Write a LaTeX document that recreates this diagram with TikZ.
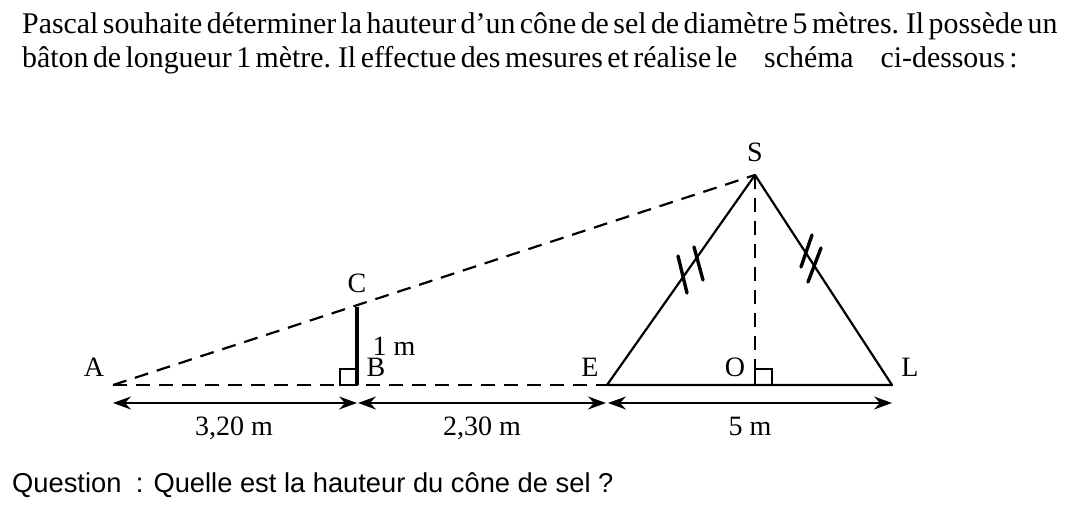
\documentclass[tikz,border=0pt]{standalone}
\usepackage{fontspec}
\setmainfont[WordSpace=0.6]{Liberation Serif}
\newfontfamily\labfont{Liberation Serif}
\newfontfamily\qfont{Liberation Sans}
\usetikzlibrary{arrows.meta}
\tikzset{
  x=1pt,y=-1pt,
  lab/.style={inner sep=0pt,font=\labfont\fontsize{28}{28}\selectfont,anchor=base},
  head/.style={inner sep=0pt,anchor=base west,font=\fontsize{30}{30}\selectfont},
  solidline/.style={line width=2.2pt,line cap=round,line join=round},
  dashline/.style={line width=2.2pt,dash pattern=on 14pt off 9pt},
  dim/.style={line width=1.3pt,{Stealth[length=18pt,width=13pt,inset=6pt]}-{Stealth[length=18pt,width=13pt,inset=6pt]}},
  tick/.style={line width=3.4pt,line cap=round},
  sqmark/.style={line width=1.7pt}
}
\begin{document}
\begin{tikzpicture}
\useasboundingbox (0,0) rectangle (1089,506);
\node[head] (t1) at (22,33) {\scalebox{0.995}[1]{Pascal souhaite déterminer la hauteur d’un cône de sel de diamètre 5 mètres. Il possède un}};
\node[head] (t2) at (22,67) {\scalebox{0.995}[1]{bâton de longueur 1 mètre. Il effectue des mesures et réalise le\hspace{0.75em} schéma\hspace{0.75em} ci-dessous :}};
\node[inner sep=0pt,anchor=base west,font=\qfont\fontsize{27.3}{27.3}\selectfont] (q) at (12,492) {Question\hspace{0.25em} : Quelle est la hauteur du cône de sel ?};
\coordinate (A) at (113,385);
\coordinate (B) at (357,385);
\coordinate (C) at (357,307);
\coordinate (E) at (607,385);
\coordinate (S) at (755,175);
\coordinate (O) at (755,385);
\coordinate (L) at (892,385);
\coordinate (dA) at (113,403);
\coordinate (dB1) at (357,403);
\coordinate (dB2) at (358,403);
\coordinate (dE1) at (606,403);
\coordinate (dE2) at (608,403);
\coordinate (dL) at (892,403);
\coordinate (m1a) at (678,256);\coordinate (m1b) at (687,293);
\coordinate (m2a) at (694,247);\coordinate (m2b) at (703,280);
\coordinate (m3a) at (812,235);\coordinate (m3b) at (801,267);
\coordinate (m4a) at (821,248);\coordinate (m4b) at (808,282);
\node[lab] (la) at (94,376) {A};
\node[lab] (lb) at (376,376) {B};
\node[lab] (lc) at (357,292) {C};
\node[lab] (le) at (590,376) {E};
\node[lab] (ls) at (755,161) {S};
\node[lab] (lo) at (735,376) {O};
\node[lab] (ll) at (910,376) {L};
\node[lab] (l1) at (394,355) {1 m};
\node[lab] (d1) at (234,435) {3,20 m};
\node[lab] (d2) at (482,435) {2,30 m};
\node[lab] (d3) at (750,435) {5 m};
\draw[dashline] (A) -- (E);
\draw[dashline] (A) -- (S);
\draw[dashline] (S) -- (O);
\draw[solidline] (E) -- (S) -- (L) -- cycle;
\draw[line width=4pt] (B) -- (C);
\draw[sqmark] (B) ++(-17,0) rectangle ++(17,-16);
\draw[sqmark] (O) rectangle ++(17,-16);
\draw[dim] (dA) -- (dB1);
\draw[dim] (dB2) -- (dE1);
\draw[dim] (dE2) -- (dL);
\draw[tick] (m1a) -- (m1b);
\draw[tick] (m2a) -- (m2b);
\draw[tick] (m3a) -- (m3b);
\draw[tick] (m4a) -- (m4b);
\end{tikzpicture}
\end{document}
